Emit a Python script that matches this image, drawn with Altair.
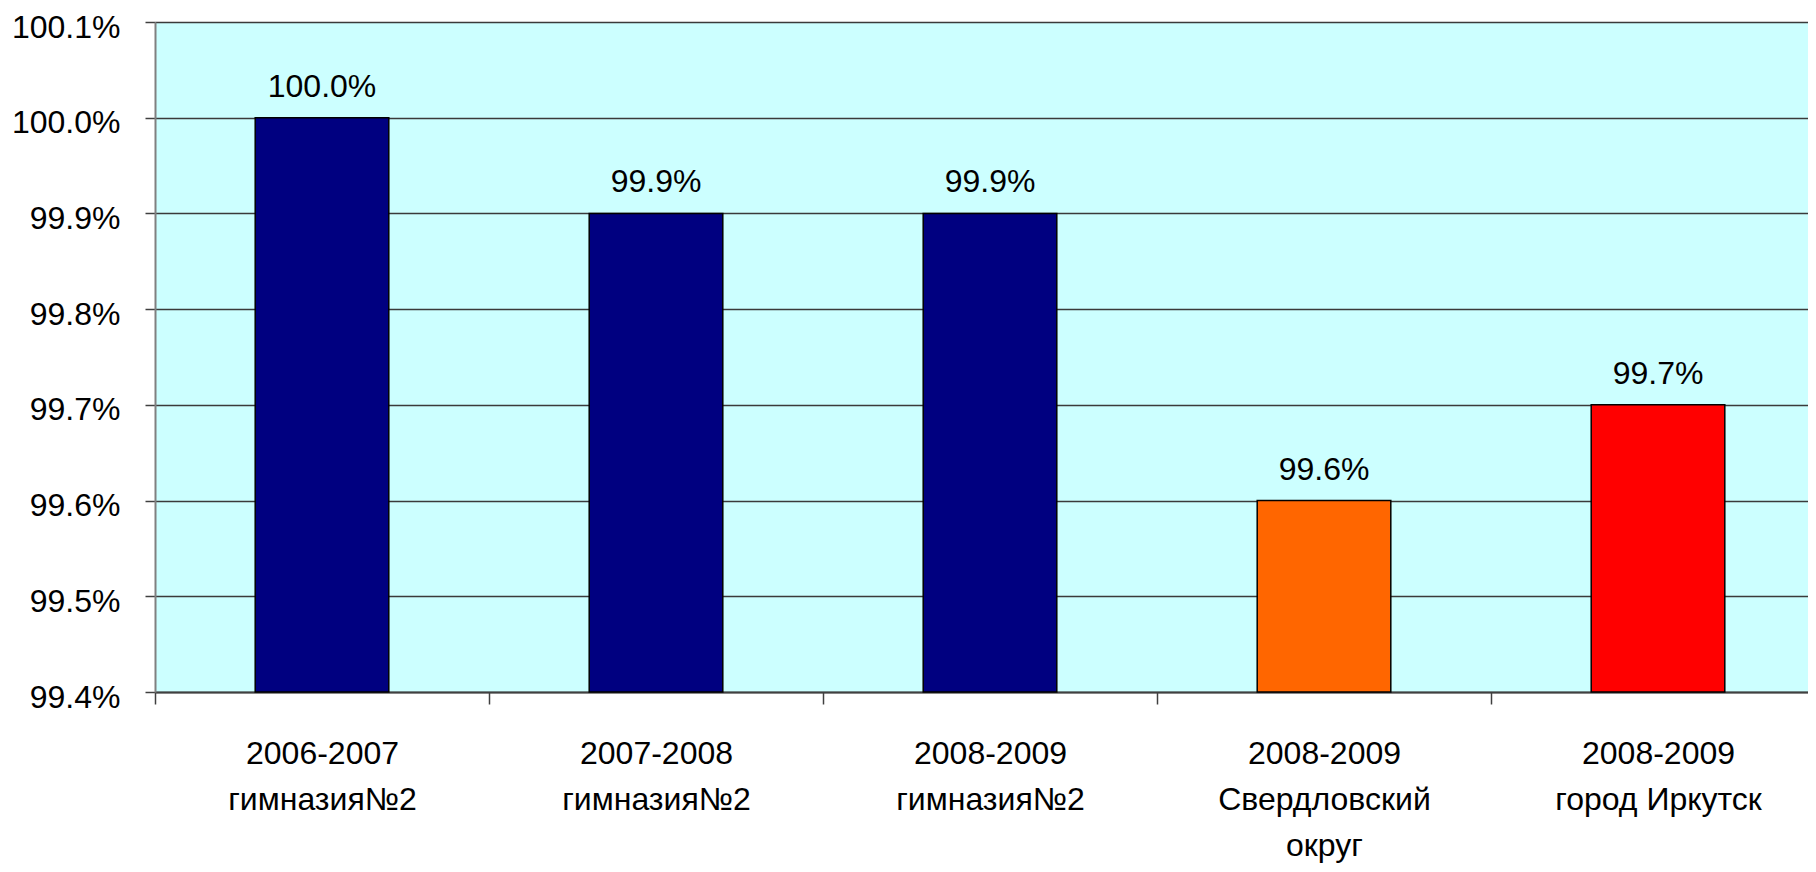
import altair as alt
import pandas as pd

categories = [
    "2006-2007|гимназия№2",
    "2007-2008|гимназия№2",
    "2008-2009|гимназия№2",
    "2008-2009|Свердловский|округ",
    "2008-2009|город Иркутск",
]
values = [100.0, 99.9, 99.9, 99.6, 99.7]
bar_colors = ["#000080", "#000080", "#000080", "#FF6600", "#FF0000"]
y_ticks = [99.4, 99.5, 99.6, 99.7, 99.8, 99.9, 100.0, 100.1]
y_min, y_max = 99.4, 100.1

df = pd.DataFrame({"cat": categories, "val": values})

FONT = "Liberation Sans"

x_scale = alt.Scale(range=[0, 1670], paddingInner=0, paddingOuter=0)

x_enc = alt.X(
    "cat:N",
    sort=categories,
    title=None,
    scale=x_scale,
    axis=alt.Axis(
        labelAngle=0,
        labelExpr="split(datum.label, '|')",
        labelFontSize=32,
        labelFont=FONT,
        labelColor="black",
        labelLineHeight=46,
        labelBaseline="top",
        labelPadding=34,
        labelLimit=500,
        tickSize=12,
        tickColor="#404040",
        tickWidth=1.5,
        tickBand="extent",
        domainColor="#404040",
        domainWidth=2,
        grid=False,
    ),
)

y_scale = alt.Scale(domain=[y_min, y_max], nice=False, zero=False)

bars = alt.Chart(df).mark_bar(
    stroke="black", strokeWidth=1.5, width=alt.RelativeBandSize(0.4)
).encode(
    x=x_enc,
    y=alt.Y(
        "val:Q",
        scale=y_scale,
        title=None,
        axis=alt.Axis(
            values=y_ticks,
            labelExpr="format(datum.value, '.1f') + '%'",
            labelFontSize=32,
            labelFont=FONT,
            labelColor="black",
            labelPadding=25,
            labelOffset=5,
            tickSize=10,
            tickColor="#404040",
            tickWidth=1.5,
            domainColor="#808080",
            domainWidth=2,
            grid=True,
            gridColor="#3a3a3a",
            gridWidth=1.5,
        ),
    ),
    y2=alt.datum(y_min),
    color=alt.Color(
        "cat:N",
        scale=alt.Scale(domain=categories, range=bar_colors),
        legend=None,
    ),
)

labels = alt.Chart(df).transform_calculate(
    lbl="format(datum.val, '.1f') + '%'"
).mark_text(
    dy=-21, baseline="alphabetic", fontSize=32, font=FONT, color="black"
).encode(
    x=alt.X("cat:N", sort=categories),
    y=alt.Y("val:Q", scale=y_scale),
    text="lbl:N",
)

chart = (
    alt.layer(bars, labels)
    .properties(
        width=1653,
        height=670,
        autosize=alt.AutoSizeParams(type="none"),
        padding={"left": 147, "top": 14, "right": 0, "bottom": 172},
        background="white",
    )
    .configure_view(fill="#CCFFFF", stroke=None)
)

chart.save("out.html", embed_options={"renderer": "svg", "actions": False})
